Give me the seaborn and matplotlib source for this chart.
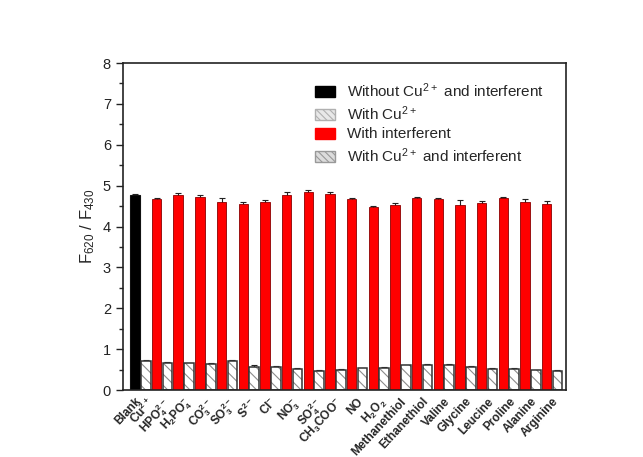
import matplotlib
matplotlib.use("Agg")
import numpy as np
import pandas as pd
import seaborn as sns
import matplotlib.pyplot as plt
import matplotlib.colors as mcolors
from matplotlib.patches import Patch

# ---- data -------------------------------------------------------------
tick_labels = ["Blank", r"Cu$^{2+}$", r"HPO$_4^{2-}$", r"H$_2$PO$_4^{-}$",
               r"CO$_3^{2-}$", r"SO$_3^{2-}$", r"S$^{2-}$", r"Cl$^{-}$",
               r"NO$_3^{-}$", r"SO$_4^{2-}$", r"CH$_3$COO$^{-}$", "NO",
               r"H$_2$O$_2$", "Methanethiol", "Ethanethiol", "Valine",
               "Glycine", "Leucine", "Proline", "Alanine", "Arginine"]

series_names = [r"Without Cu$^{2+}$ and interferent", r"With Cu$^{2+}$",
                "With interferent", r"With Cu$^{2+}$ and interferent"]

blank_value = 4.77
blank_err = 0.02
cu_value = 0.70
cu_err = 0.03

# one value per interferent (HPO4 ... Arginine)
interferent_values = [4.67, 4.77, 4.73, 4.60, 4.56, 4.60, 4.78, 4.84, 4.79,
                      4.67, 4.48, 4.53, 4.70, 4.67, 4.52, 4.58, 4.71, 4.60,
                      4.54]
interferent_errs = [0.03, 0.06, 0.05, 0.10, 0.05, 0.04, 0.06, 0.05, 0.05,
                    0.02, 0.02, 0.05, 0.02, 0.03, 0.13, 0.04, 0.02, 0.07,
                    0.08]
cu_interferent_values = [0.66, 0.65, 0.64, 0.72, 0.57, 0.56, 0.51, 0.46, 0.49,
                         0.53, 0.55, 0.60, 0.62, 0.62, 0.57, 0.52, 0.51, 0.48,
                         0.47]
cu_interferent_errs = [0.02, 0.02, 0.02, 0.02, 0.03, 0.02, 0.02, 0.02, 0.02,
                       0.02, 0.02, 0.02, 0.02, 0.02, 0.02, 0.02, 0.02, 0.02,
                       0.02]

# ---- long table: one row per bar slot ----------------------------------
values = [blank_value, cu_value]
errs = [blank_err, cu_err]
series = [series_names[0], series_names[1]]
for v, e, vc, ec in zip(interferent_values, interferent_errs,
                        cu_interferent_values, cu_interferent_errs):
    values += [v, vc]
    errs += [e, ec]
    series += [series_names[2], series_names[3]]
slots = list(range(len(values)))
df = pd.DataFrame({"slot": slots, "value": values, "err": errs,
                   "series": series})

# ---- style ------------------------------------------------------------
sns.set_style("ticks")
plt.rcParams["font.family"] = ["Liberation Sans", "DejaVu Sans"]
plt.rcParams["mathtext.default"] = "regular"
plt.rcParams["hatch.linewidth"] = 0.8

fig = plt.figure(figsize=(6.43, 4.57), dpi=100)
ax = fig.add_axes([0.1908, 0.1466, 0.689, 0.7154])

palette = {series_names[0]: "black", series_names[1]: "white",
           series_names[2]: "#ff0000", series_names[3]: "white"}

sns.barplot(data=df, x="slot", y="value", hue="series", order=slots,
            hue_order=series_names, palette=palette, dodge=False,
            width=0.88, errorbar=None, legend=False, ax=ax, saturation=1)

# styling of the individual bars, left to right
hatch_grey = mcolors.to_rgba("#8c8c8c")
for i, p in enumerate(sorted(ax.patches, key=lambda q: q.get_x())):
    p.set_zorder(2)
    if i == 0:
        p.set_edgecolor("#111111")
        p.set_linewidth(0.8)
    elif i % 2 == 1:
        p.set_facecolor("white")
        p.set_edgecolor("#333333")
        p.set_linewidth(1.1)
        p.set_hatch("\\\\\\")
        p._hatch_color = hatch_grey
    else:
        p.set_edgecolor("#8b0000")
        p.set_linewidth(0.6)

ax.errorbar(df["slot"], df["value"], yerr=df["err"], fmt="none",
            ecolor="#222222", elinewidth=0.8, capsize=2.5, capthick=0.8,
            zorder=1.5)

# ---- axes -------------------------------------------------------------
ax.set_ylim(0, 8)
ax.set_xlim(-1.13, 39.76)
ax.set_yticks(np.arange(0, 9, 1))
ax.set_yticks(np.arange(0.5, 8, 1), minor=True)
ax.tick_params(axis="y", which="major", direction="out", length=5,
               width=1, labelsize=10.5, colors="#222222")
ax.tick_params(axis="y", which="minor", direction="out", length=3, width=1)

label_pos = [0, 1] + [2 * k + 0.5 for k in range(1, len(interferent_values) + 1)]
ax.set_xticks(label_pos)
ax.set_xticklabels(tick_labels, rotation=47, ha="right",
                   rotation_mode="anchor", fontsize=8.6, fontweight="bold")
ax.tick_params(axis="x", length=0, pad=4)
ax.set_xlabel("")
ax.set_ylabel(r"F$_{620}$ / F$_{430}$", fontsize=12, labelpad=4)

for s in ax.spines.values():
    s.set_visible(True)
    s.set_linewidth(1.2)
    s.set_color("#222222")

# ---- legend -----------------------------------------------------------
handles = [Patch(facecolor="black", edgecolor="black"),
           Patch(facecolor="#e8e8e8", edgecolor="#b0b0b0", hatch="\\\\\\\\\\"),
           Patch(facecolor="#ff0000", edgecolor="#ff0000"),
           Patch(facecolor="#dcdcdc", edgecolor="#999999", hatch="\\\\\\\\\\")]
fig.legend(handles, series_names, loc="upper left",
           bbox_to_anchor=(0.481, 0.836), frameon=False, fontsize=11,
           handlelength=1.3, handleheight=0.75, handletextpad=0.75,
           labelspacing=0.3, borderaxespad=0)

fig.savefig("out.png", dpi=100, facecolor="white")
